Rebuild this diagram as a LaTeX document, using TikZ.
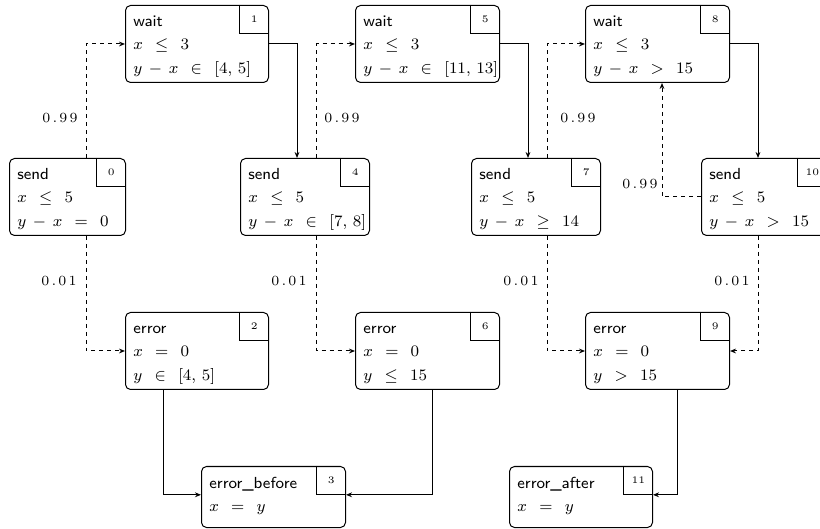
\documentclass[tikz,border=0pt]{standalone}
\usetikzlibrary{arrows.meta}
\newcommand\pr[3]{$#1\kern1.1pt.\kern1.1pt#2\kern1.1pt#3$}
\newcommand\mathsp{\thickmuskip=13mu\relax\medmuskip=7mu\relax}
\begin{document}
\begin{tikzpicture}[x=0.5pt,y=-0.5pt,
  loc/.style={draw, rounded corners=2.5pt, anchor=north west, inner sep=0pt, line width=0.5pt},
  idx/.style={anchor=north east, minimum width=14.25pt, minimum height=14pt, inner sep=0pt, font=\tiny},
  nm/.style={anchor=base west, inner sep=0pt, font=\footnotesize\sffamily},
  ln/.style={anchor=base west, inner sep=0pt, font=\footnotesize},
  tr/.style={line width=0.5pt, -{Stealth[length=3pt,width=2.4pt]}},
  prob/.style={tr, dash pattern=on 2pt off 2pt},
  pl/.style={font=\scriptsize, inner sep=0pt},
]
\useasboundingbox (0,0) rectangle (820,529);
\newcommand\locbox[9]{%
  \node[loc, minimum width=#4*0.5pt, minimum height=#5*0.5pt] (#1) at (#2,#3) {};
  \node[idx] (#1n) at (#1.north east) {#6};
  \draw[line width=0.5pt] (#1n.north west) -- (#1n.south west) -- (#1n.south east);
  \node[nm] (#1a) at ([xshift=4pt,yshift=-11pt]#1.north west) {#7};
  \node[ln] (#1b) at ([xshift=4pt,yshift=-22.5pt]#1.north west) {\mathsp$#8$};
  \if\relax\detokenize{#9}\relax\else
  \node[ln] (#1c) at ([xshift=4pt,yshift=-34.5pt]#1.north west) {\mathsp$#9$};
  \fi
}
\locbox{b1}{125}{5}{143}{77}{1}{wait}{x \leq 3}{y - x \in [4,\,5]}
\locbox{b0}{9}{158}{116}{77}{0}{send}{x \leq 5}{y - x = 0}
\locbox{b4}{240}{158}{129}{77}{4}{send}{x \leq 5}{y - x \in [7,\,8]}
\locbox{b5}{355}{5}{144}{77}{5}{wait}{x \leq 3}{y - x \in [11,\,13]}
\locbox{b7}{471}{158}{129}{77}{7}{send}{x \leq 5}{y - x \geq 14}
\locbox{b8}{585}{5}{144}{77}{8}{wait}{x \leq 3}{y - x > 15}
\locbox{b10}{701}{158}{125}{77}{10}{send}{x \leq 5}{y - x > 15}
\locbox{b2}{125}{312}{143}{77}{2}{error}{x = 0}{y \in [4,\,5]}
\locbox{b6}{355}{312}{144}{77}{6}{error}{x = 0}{y \leq 15}
\locbox{b9}{585}{312}{144}{77}{9}{error}{x = 0}{y > 15}
\locbox{b3}{201}{466}{144}{61}{3}{error\_before}{x = y}{}
\locbox{b11}{509}{466}{143}{61}{11}{error\_after}{x = y}{}

\coordinate (k0) at (86,0);
\coordinate (k1) at (297,0);
\coordinate (k4) at (316.5,0);
\coordinate (k5) at (528,0);
\coordinate (k7) at (547,0);
\coordinate (k8) at (758,0);
\coordinate (k10) at (662,0);
\coordinate (k2) at (163,0);
\coordinate (k6) at (432.5,0);
\coordinate (k9) at (677,0);

\draw[prob] (b0.north -| k0) |- (b1.west);
\draw[prob] (b0.south -| k0) |- (b2.west);
\draw[tr] (b1.east) -| (b4.north -| k1);
\draw[prob] (b4.north -| k4) |- (b5.west);
\draw[prob] (b4.south -| k4) |- (b6.west);
\draw[tr] (b5.east) -| (b7.north -| k5);
\draw[prob] (b7.north -| k7) |- (b8.west);
\draw[prob] (b7.south -| k7) |- (b9.west);
\draw[tr] (b8.east) -| (b10.north -| k8);
\draw[prob] (b10.west) -| (b8.south -| k10);
\draw[prob] (b10.south -| k8) |- (b9.east);
\draw[tr] (b2.south -| k2) |- (b3.west |- b3n.south);
\draw[tr] (b6.south -| k6) |- (b3n.south east);
\draw[tr] (b9.south -| k9) |- (b11n.south east);

\node[pl] (p01) at (60,118) {\pr{0}{9}{9}};
\node[pl] (p45) at (342,118) {\pr{0}{9}{9}};
\node[pl] (p78) at (578,118) {\pr{0}{9}{9}};
\node[pl] (p108) at (640,184) {\pr{0}{9}{9}};
\node[pl] (p02) at (59,281) {\pr{0}{0}{1}};
\node[pl] (p46) at (289,281) {\pr{0}{0}{1}};
\node[pl] (p79) at (521,281) {\pr{0}{0}{1}};
\node[pl] (p109) at (732,281) {\pr{0}{0}{1}};
\end{tikzpicture}
\end{document}
